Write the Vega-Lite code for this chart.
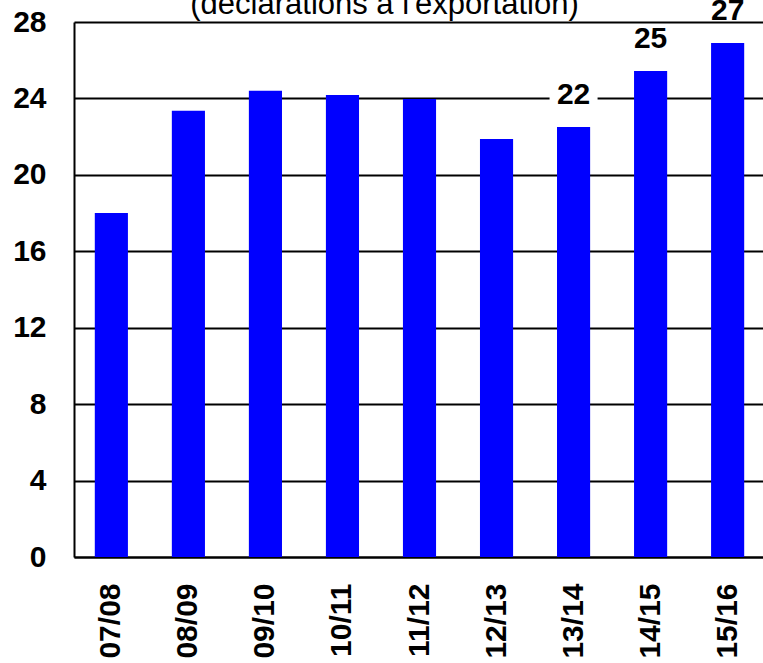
{
  "$schema": "https://vega.github.io/schema/vega-lite/v6.json",
  "autosize": "none",
  "width": 691,
  "height": 535,
  "padding": {"left": 74, "top": 22, "right": 0, "bottom": 106},
  "background": "#ffffff",
  "title": {
    "text": "(déclarations à l'exportation)",
    "font": "Liberation Sans",
    "fontSize": 31,
    "fontWeight": "normal",
    "color": "#000000",
    "anchor": "middle",
    "baseline": "alphabetic",
    "offset": 0,
    "dx": -35,
    "dy": 49
  },
  "config": {
    "view": {"stroke": null},
    "axis": {
      "labelFont": "Liberation Sans",
      "labelFontWeight": "bold",
      "labelFontSize": 30,
      "labelColor": "#000000",
      "domainColor": "#000000",
      "domainWidth": 2,
      "tickSize": 0,
      "ticks": false,
      "title": null
    }
  },
  "data": {
    "values": [
      {"saison": "07/08", "valeur": 18.0},
      {"saison": "08/09", "valeur": 23.35},
      {"saison": "09/10", "valeur": 24.4},
      {"saison": "10/11", "valeur": 24.18},
      {"saison": "11/12", "valeur": 23.97},
      {"saison": "12/13", "valeur": 21.88},
      {"saison": "13/14", "valeur": 22.5, "label": "22"},
      {"saison": "14/15", "valeur": 25.43, "label": "25"},
      {"saison": "15/16", "valeur": 26.9, "label": "27"}
    ]
  },
  "encoding": {
    "x": {
      "field": "saison",
      "type": "nominal",
      "sort": null,
      "scale": {"paddingInner": 0.57, "paddingOuter": 0.27},
      "axis": {
        "labelAngle": -90,
        "labelPadding": 26,
        "grid": false
      }
    },
    "y": {
      "field": "valeur",
      "type": "quantitative",
      "scale": {"domain": [0, 28], "nice": false},
      "axis": {
        "values": [0, 4, 8, 12, 16, 20, 24, 28],
        "labelPadding": 28,
        "grid": true,
        "gridColor": "#000000",
        "gridWidth": 2,
        "gridOpacity": 1
      }
    }
  },
  "layer": [
    {
      "mark": {"type": "bar", "color": "#0000FF"}
    },
    {
      "transform": [{"filter": "datum.label != null"}],
      "mark": {
        "type": "point",
        "shape": "M-1,-0.375H1V0.375H-1Z",
        "size": 2304,
        "filled": true,
        "fill": "#ffffff",
        "stroke": null,
        "opacity": 1,
        "yOffset": -32
      }
    },
    {
      "transform": [{"filter": "datum.label != null"}],
      "mark": {
        "type": "text",
        "font": "Liberation Sans",
        "fontWeight": "bold",
        "fontSize": 30,
        "color": "#000000",
        "baseline": "middle",
        "align": "center",
        "dy": -32
      },
      "encoding": {"text": {"field": "label"}}
    }
  ]
}
